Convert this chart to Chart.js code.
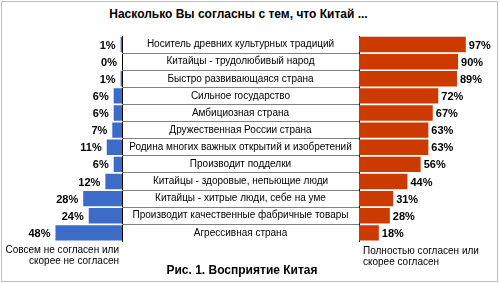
<!DOCTYPE html>
<html>
<head>
<meta charset="utf-8">
<script src="https://cdn.jsdelivr.net/npm/chart.js@4.4.1/dist/chart.umd.min.js"></script>
<style>
  body { margin: 0; width: 499px; height: 283px; overflow: hidden; background: #fff; position: relative;
         font-family: "Liberation Sans", Arial, sans-serif; color: #000; }
  #frame { position: absolute; left: 1px; top: 1px; width: 495px; height: 279px; border: 1px solid #bdbdbd; }
  #title { position: absolute; left: 0; top: 7px; width: 477px; text-align: center; font-weight: bold; font-size: 12px; line-height: 14px; }
  #footer { position: absolute; left: 0; top: 263px; width: 484px; text-align: center; font-weight: bold; font-size: 12px; line-height: 14px; }
  #cap-left { position: absolute; right: 380px; top: 244px; text-align: right; font-size: 10px; line-height: 11px; }
  #cap-right { position: absolute; left: 363px; top: 245px; text-align: left; font-size: 10px; line-height: 11px; }
  canvas { position: absolute; top: 0; }
  #left-chart { left: 0; }
  #right-chart { left: 122px; }
</style>
</head>
<body>
<div id="frame"></div>
<div id="title">Насколько Вы согласны с тем, что Китай ...</div>
<canvas id="left-chart" width="124" height="283"></canvas>
<canvas id="right-chart" width="377" height="283"></canvas>
<div id="cap-left">Совсем не согласен или<br>скорее не согласен</div>
<div id="cap-right">Полностью согласен или<br>скорее согласен</div>
<div id="footer">Рис. 1. Восприятие Китая</div>

<script>
// ===== data =====
const statements = [
    'Носитель древних культурных традиций',
    'Китайцы - трудолюбивый народ',
    'Быстро развивающаяся страна',
    'Сильное государство',
    'Амбициозная страна',
    'Дружественная России страна',
    'Родина многих важных открытий и изобретений',
    'Производит подделки',
    'Китайцы - здоровые, непьющие люди',
    'Китайцы - хитрые люди, себе на уме',
    'Производит качественные фабричные товары',
    'Агрессивная страна'
];
const disagree = [1, 0, 1, 6, 6, 7, 11, 6, 12, 28, 24, 48];
const agree = [97, 90, 89, 72, 67, 63, 63, 56, 44, 31, 28, 18];

const labelFont = '10px "Liberation Sans", Arial, sans-serif';
const bandWidth = 237;   // width of the label column between the two axes

// ===== percent labels next to the bars =====
const valueLabels = {
    id: 'valueLabels',
    afterDatasetsDraw(chart, args, opts) {
        const ctx = chart.ctx;
        const meta = chart.getDatasetMeta(0);
        const values = chart.data.datasets[0].data;
        ctx.save();
        ctx.font = 'bold 11px "Liberation Sans", Arial, sans-serif';
        ctx.fillStyle = '#000';
        ctx.textBaseline = 'middle';
        ctx.textAlign = opts.side === 'left' ? 'right' : 'left';
        meta.data.forEach((bar, i) => {
            const x = opts.side === 'left' ? bar.x - 5 : bar.x + 3;
            ctx.fillText(values[i] + '%', x, bar.y + 1);
        });
        ctx.restore();
    }
};

// measure the widest statement so the tick labels sit centred in the band
const measureCtx = document.createElement('canvas').getContext('2d');
measureCtx.font = labelFont;
const widest = Math.max(...statements.map(s => measureCtx.measureText(s).width));

// ============ left chart: disagree ============
new Chart(document.getElementById('left-chart'), {
    type: 'bar',
    data: {
        labels: statements,
        datasets: [{
            data: disagree,
            backgroundColor: '#3c6cc8',
            categoryPercentage: 1,
            barPercentage: 0.9
        }]
    },
    options: {
        indexAxis: 'y',
        responsive: false,
        animation: false,
        layout: { padding: { top: 36, bottom: 41.6, left: 0, right: 2 } },
        plugins: { legend: { display: false }, tooltip: { enabled: false }, valueLabels: { side: 'left' } },
        scales: {
            x: { display: false, reverse: true, min: 0, max: 88 },
            y: {
                position: 'right',
                grid: { display: false, drawTicks: false },
                ticks: { display: false },
                border: { display: true, color: '#000', width: 1 },
                afterFit: scale => { scale.width = 0; }
            }
        }
    },
    plugins: [valueLabels]
});

// ============ right chart: agree + statements ============
new Chart(document.getElementById('right-chart'), {
    type: 'bar',
    data: {
        labels: statements,
        datasets: [{
            data: agree,
            backgroundColor: '#cc3a00',
            categoryPercentage: 1,
            barPercentage: 0.9
        }]
    },
    options: {
        indexAxis: 'y',
        responsive: false,
        animation: false,
        layout: { padding: { top: 36, bottom: 41.6, left: 0, right: 20 } },
        plugins: { legend: { display: false }, tooltip: { enabled: false }, valueLabels: { side: 'right' } },
        scales: {
            x: { display: false, min: 0, max: 109 },
            y: {
                position: 'left',
                grid: {
                    drawOnChartArea: false,
                    drawTicks: true,
                    tickLength: bandWidth,
                    color: c => (c.index > 0 ? '#808080' : 'rgba(0,0,0,0)')
                },
                border: { display: true, color: '#000', width: 1 },
                ticks: {
                    autoSkip: false,
                    crossAlign: 'center',
                    color: '#000',
                    font: { family: '"Liberation Sans", Arial, sans-serif', size: 10 },
                    padding: bandWidth / 2 - bandWidth - widest / 2
                },
                afterFit: scale => { scale.width = bandWidth; }
            }
        }
    },
    plugins: [valueLabels]
});
</script>
</body>
</html>
